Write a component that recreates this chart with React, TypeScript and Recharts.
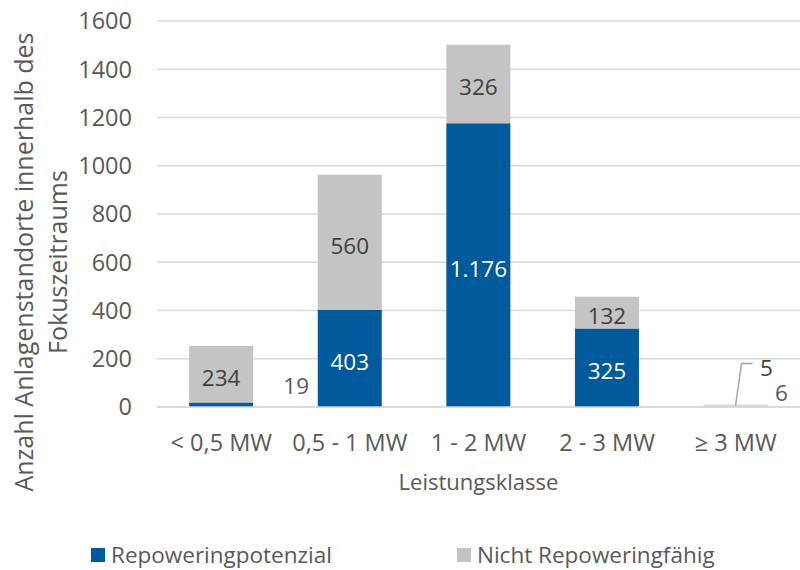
import React from "react";
import { BarChart, Bar, XAxis, YAxis, CartesianGrid, LabelList, Legend, Cell, Label } from "recharts";

const categories = ["< 0,5 MW", "0,5 - 1 MW", "1 - 2 MW", "2 - 3 MW", "≥ 3 MW"];
const repowering = [19, 403, 1176, 325, 6];
const nichtRepowering = [234, 560, 326, 132, 5];
const yTicks = [0, 200, 400, 600, 800, 1000, 1200, 1400, 1600];
const seriesNames = ["Repoweringpotenzial", "Nicht Repoweringfähig"];
const xTitle = "Leistungsklasse";
const yTitleLines = ["Anzahl Anlagenstandorte innerhalb des", "Fokuszeitraums"];

const data = categories.map((c, i) => ({ name: c, rep: repowering[i], nicht: nichtRepowering[i] }));

const BLUE = "#005a9b";
const GRAY = "#c4c4c4";
const PALE_BLUE = "#9fbdd8";
const PALE_GRAY = "#e2e2e2";
const FONT = "'Open Sans', 'Noto Sans', sans-serif";
const LABEL_SIZE = 22.5;

const fmt = (v: number) => String(v).replace(/\B(?=(\d{3})+(?!\d))/g, ".");

const RepLabel = (props: any) => {
  const { x, y, width, height, value, index } = props;
  const cx = x + width / 2;
  const bottom = y + height;
  if (index === 0) {
    return (
      <text x={x + width + 43} y={bottom - 22} textAnchor="middle" dominantBaseline="central" fill="#595959" fontSize={LABEL_SIZE} fontFamily={FONT}>
        {fmt(value)}
      </text>
    );
  }
  if (index === 4) {
    return (
      <text x={x + width + 14} y={bottom - 15} textAnchor="middle" dominantBaseline="central" fill="#595959" fontSize={LABEL_SIZE} fontFamily={FONT}>
        {fmt(value)}
      </text>
    );
  }
  return (
    <text x={cx} y={y + height / 2 + 3} textAnchor="middle" dominantBaseline="central" fill="#ffffff" fontSize={LABEL_SIZE} fontFamily={FONT}>
      {fmt(value)}
    </text>
  );
};

const NichtLabel = (props: any) => {
  const { x, y, width, height, value, index } = props;
  const cx = x + width / 2;
  const bottom = y + height;
  if (index === 4) {
    return (
      <g>
        <polyline points={`${cx},${bottom} ${cx + 6},${bottom - 42} ${cx + 17},${bottom - 42}`} fill="none" stroke="#a6a6a6" strokeWidth={1.5} />
        <text x={cx + 31} y={bottom - 38} textAnchor="middle" dominantBaseline="central" fill="#404040" fontSize={LABEL_SIZE} fontFamily={FONT}>
          {fmt(value)}
        </text>
      </g>
    );
  }
  return (
    <text x={cx} y={y + height / 2 + 3} textAnchor="middle" dominantBaseline="central" fill="#404040" fontSize={LABEL_SIZE} fontFamily={FONT}>
      {fmt(value)}
    </text>
  );
};

const LegendContent = () => (
  <div style={{ position: "relative", width: 800, height: 30, fontFamily: FONT, fontSize: 22.5, color: "#595959" }}>
    <div style={{ position: "absolute", left: 91, top: 8, width: 14, height: 14, background: BLUE }} />
    <div style={{ position: "absolute", left: 111, top: 0, lineHeight: "30px", whiteSpace: "nowrap" }}>{seriesNames[0]}</div>
    <div style={{ position: "absolute", left: 457, top: 8, width: 14, height: 14, background: GRAY }} />
    <div style={{ position: "absolute", left: 477, top: 0, lineHeight: "30px", whiteSpace: "nowrap" }}>{seriesNames[1]}</div>
  </div>
);

const YTitle = () => (
  <g>
    <text transform="rotate(-90, 33, 262)" x={33} y={262} textAnchor="middle" fill="#595959" fontSize={25} fontFamily={FONT}>
      {yTitleLines[0]}
    </text>
    <text transform="rotate(-90, 67, 262)" x={67} y={262} textAnchor="middle" fill="#595959" fontSize={25} fontFamily={FONT}>
      {yTitleLines[1]}
    </text>
  </g>
);

export default function App() {
  return (
    <div style={{ position: "absolute", left: 0, top: 0, width: 800, height: 570, background: "#fff" }}>
      <BarChart width={800} height={570} data={data} margin={{ top: 21, right: 0, bottom: 103, left: 0 }} barCategoryGap="25%">
        <CartesianGrid vertical={false} stroke="#d9d9d9" strokeWidth={1.5} />
        <XAxis
          dataKey="name"
          height={60}
          axisLine={{ stroke: "#d9d9d9", strokeWidth: 1.5 }}
          tickLine={false}
          tickSize={0}
          tickMargin={27}
          tick={{ fill: "#595959", fontSize: 23.5, fontFamily: FONT }}
          interval={0}
        >
          <Label
            content={(p: any) => {
              const vb = p.viewBox || {};
              return (
                <text x={vb.x + vb.width / 2} y={490} textAnchor="middle" fill="#595959" fontSize={22} fontFamily={FONT}>
                  {xTitle}
                </text>
              );
            }}
          />
        </XAxis>
        <YAxis
          width={157}
          domain={[0, 1600]}
          ticks={yTicks}
          axisLine={false}
          tickLine={false}
          tickSize={0}
          tickMargin={25}
          tick={{ fill: "#595959", fontSize: 23.5, fontFamily: FONT }}
          label={{ content: () => <YTitle /> }}
        />
        <Legend layout="horizontal" verticalAlign="middle" align="center" wrapperStyle={{ position: "absolute", top: 540, left: 0, width: 800 }} content={() => <LegendContent />} />
        <Bar dataKey="rep" name={seriesNames[0]} stackId="a" fill={BLUE} isAnimationActive={false}>
          {data.map((d, i) => (
            <Cell key={i} fill={i === 4 ? PALE_BLUE : BLUE} />
          ))}
          <LabelList dataKey="rep" content={RepLabel} />
        </Bar>
        <Bar dataKey="nicht" name={seriesNames[1]} stackId="a" fill={GRAY} isAnimationActive={false}>
          {data.map((d, i) => (
            <Cell key={i} fill={i === 4 ? PALE_GRAY : GRAY} />
          ))}
          <LabelList dataKey="nicht" content={NichtLabel} />
        </Bar>
      </BarChart>
    </div>
  );
}
